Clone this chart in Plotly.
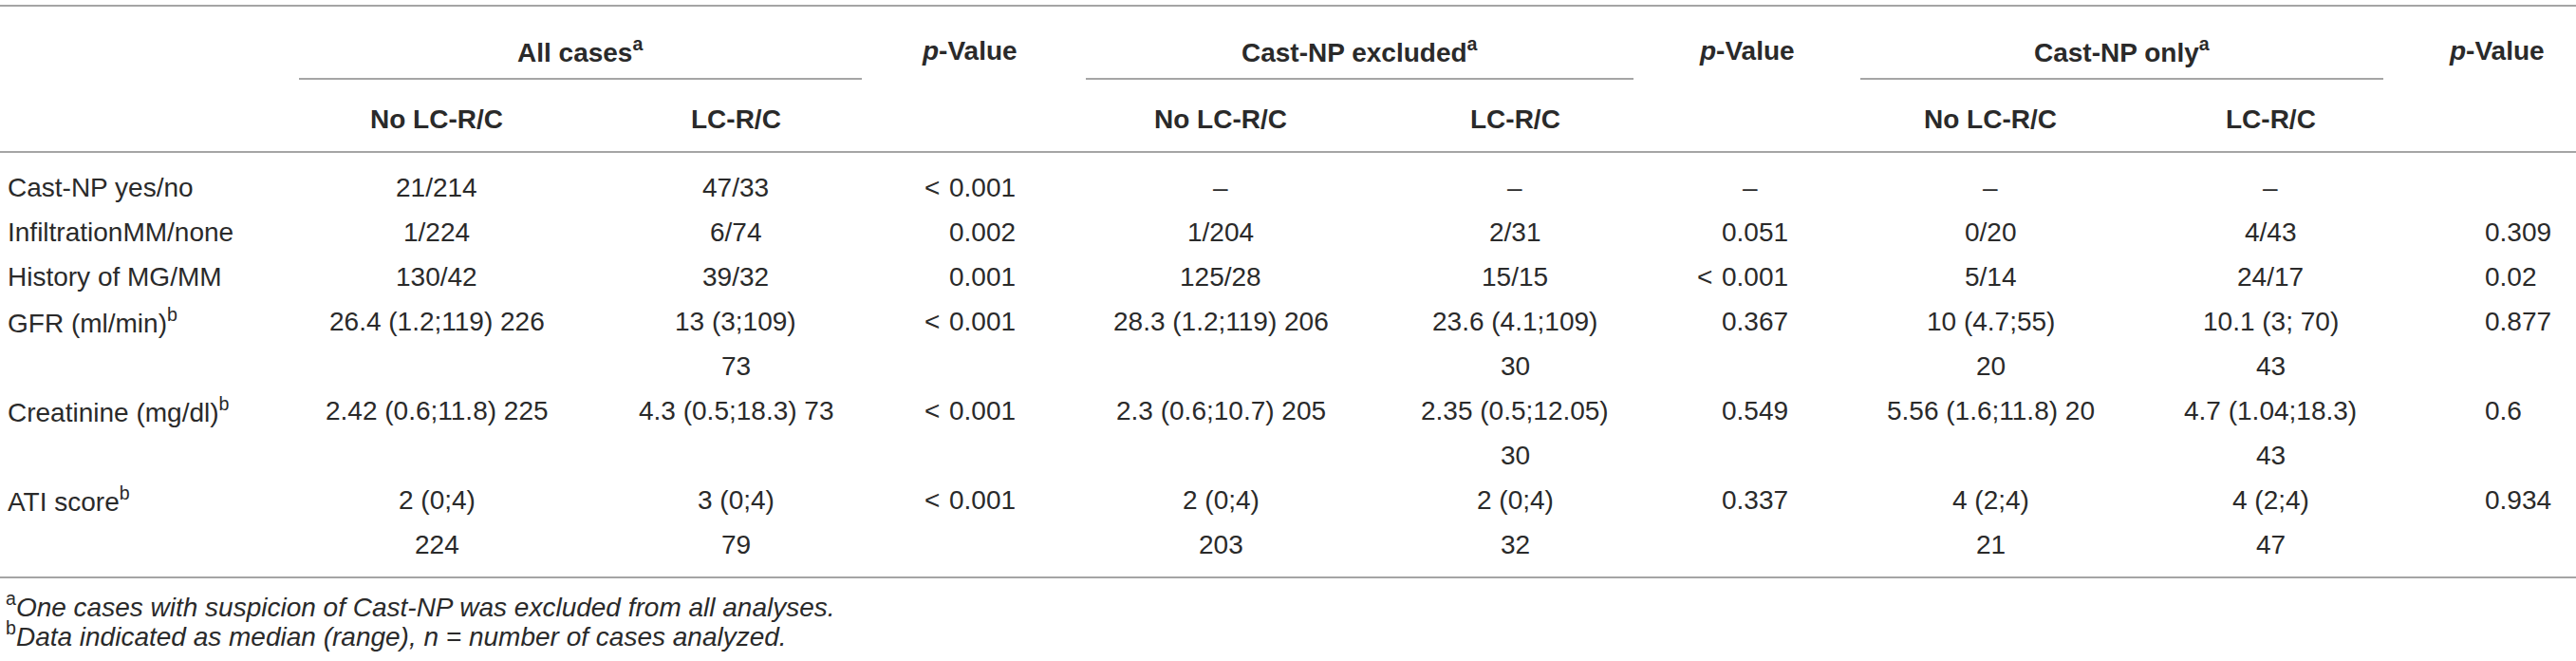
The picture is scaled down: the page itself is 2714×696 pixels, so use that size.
import plotly.graph_objects as go

W, H = 2714, 696

# table content
row_labels = ["Cast-NP yes/no", "InfiltrationMM/none", "History of MG/MM",
              "GFR (ml/min)<sup>b</sup>", "Creatinine (mg/dl)<sup>b</sup>", "ATI score<sup>b</sup>"]

group_titles = ["All cases<sup>a</sup>", "Cast-NP excluded<sup>a</sup>", "Cast-NP only<sup>a</sup>"]
sub_titles = ["No LC-R/C", "LC-R/C"]
p_title = "<i>p</i>-Value"

all_no = ["21/214", "1/224", "130/42", "26.4 (1.2;119) 226", "2.42 (0.6;11.8) 225", "2 (0;4)<br>224"]
all_lc = ["47/33", "6/74", "39/32", "13 (3;109)<br>73", "4.3 (0.5;18.3) 73", "3 (0;4)<br>79"]
p_all = ["<0.001", "0.002", "0.001", "<0.001", "<0.001", "<0.001"]

excl_no = ["–", "1/204", "125/28", "28.3 (1.2;119) 206", "2.3 (0.6;10.7) 205", "2 (0;4)<br>203"]
excl_lc = ["–", "2/31", "15/15", "23.6 (4.1;109)<br>30", "2.35 (0.5;12.05)<br>30", "2 (0;4)<br>32"]
p_excl = ["–", "0.051", "<0.001", "0.367", "0.549", "0.337"]

only_no = ["–", "0/20", "5/14", "10 (4.7;55)<br>20", "5.56 (1.6;11.8) 20", "4 (2;4)<br>21"]
only_lc = ["–", "4/43", "24/17", "10.1 (3; 70)<br>43", "4.7 (1.04;18.3)<br>43", "4 (2;4)<br>47"]
p_only = ["", "0.309", "0.02", "0.877", "0.6", "0.934"]

footnotes = ["<sup>a</sup><i>One cases with suspicion of Cast-NP was excluded from all analyses.</i>",
             "<sup>b</sup><i>Data indicated as median (range), n = number of cases analyzed.</i>"]

# layout of the columns (pixel positions)
value_cols = [(all_no, 460), (all_lc, 775), (excl_no, 1286), (excl_lc, 1596),
              (only_no, 2097), (only_lc, 2392)]
p_cols = [(p_all, 998, 1030, 1021), (p_excl, 1812, 1844, 1840), (p_only, 2616, 2648, 2630)]
group_spans = [(315, 908), (1144, 1721), (1960, 2511)]

TEXT = "#2a2a2a"
RULE = "#a5a5a5"
FONT = "Liberation Sans"
FS = 28
ROW_TOP, PITCH = 197, 47

fig = go.Figure()


def txt(x, y, s, anchor="center", bold=False, size=FS):
    if not s:
        return
    fig.add_annotation(x=x, y=y, text=s, showarrow=False, xanchor=anchor, yanchor="middle",
                       font=dict(family=FONT, size=size, color=TEXT, weight="bold" if bold else "normal"))


def rule(x0, x1, y):
    fig.add_shape(type="line", x0=x0, x1=x1, y0=y, y1=y, line=dict(color=RULE, width=2))


# header
rule(0, W, 6)
for title, (a, b) in zip(group_titles, group_spans):
    txt((a + b) / 2, 53, title, bold=True)
    rule(a, b, 83)
for i, (_, x) in enumerate(value_cols):
    txt(x, 125, sub_titles[i % 2], bold=True)
for _, _, _, xh in p_cols:
    txt(xh, 53, p_title, bold=True)
rule(0, W, 160)

# body
line_idx = 0
for r, label in enumerate(row_labels):
    cells = [col[r] for col, _ in value_cols]
    n_lines = max(c.count("<br>") + 1 for c in cells)
    y = ROW_TOP + line_idx * PITCH
    txt(6, y, label, anchor="left")
    for col, x in value_cols:
        for k, part in enumerate(col[r].split("<br>")):
            txt(x, y + k * PITCH, part)
    for col, xl, xc, _ in p_cols:
        v = col[r]
        if v in ("", "–"):
            txt(xc, y, v)
        elif v.startswith("<"):
            txt(xl - 6, y, "<", anchor="right")
            txt(xl, y, v[1:], anchor="left")
        else:
            txt(xl, y, v, anchor="left")
    line_idx += n_lines

bottom = ROW_TOP + (line_idx - 1) * PITCH + 35
rule(0, W, bottom)
for i, note in enumerate(footnotes):
    txt(4, bottom + 29 + i * 31, note, anchor="left", size=28)

fig.update_xaxes(range=[0, W], visible=False, fixedrange=True)
fig.update_yaxes(range=[H, 0], visible=False, fixedrange=True)
fig.update_layout(width=W, height=H, margin=dict(l=0, r=0, t=0, b=0),
                  paper_bgcolor="white", plot_bgcolor="white", showlegend=False)

fig.write_html("out.html", config={"displayModeBar": False},
               post_script="document.body.style.margin='0';")
